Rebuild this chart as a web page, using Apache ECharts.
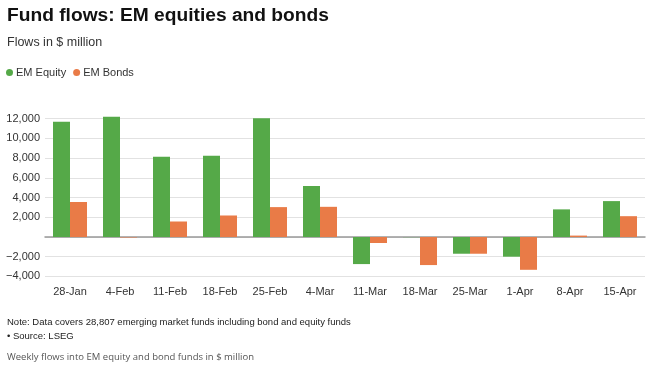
<!DOCTYPE html>
<html>
<head>
<meta charset="utf-8">
<script src="https://cdn.jsdelivr.net/npm/echarts@6/dist/echarts.min.js"></script>
<style>
html,body{margin:0;padding:0;background:#fff;}
#chart{width:646px;height:368px;}
</style>
</head>
<body>
<div id="chart"></div>
<script>
const categories = ['28-Jan','4-Feb','11-Feb','18-Feb','25-Feb','4-Mar','11-Mar','18-Mar','25-Mar','1-Apr','8-Apr','15-Apr'];
const emEquity = [11700, 12200, 8130, 8230, 12050, 5170, -2750, -20, -1700, -2000, 2800, 3640];
const emBonds = [3550, -50, 1570, 2180, 3030, 3060, -610, -2850, -1700, -3330, 140, 2110];
const yTicks = [-4000, -2000, 0, 2000, 4000, 6000, 8000, 10000, 12000];

const chart = echarts.init(document.getElementById('chart'), null, {renderer:'canvas'});
const font = 'Liberation Sans, Arial, Helvetica, sans-serif';
chart.setOption({
  animation:false,
  textStyle:{fontFamily:font},
  title:[
    {text:'Fund flows: EM equities and bonds', left:7, top:6, padding:0, textStyle:{fontSize:19.2, fontWeight:'bold', color:'#111', fontFamily:font}},
    {text:'Flows in $ million', left:7, top:36, padding:0, textStyle:{fontSize:12.5, fontWeight:'normal', color:'#333', fontFamily:font}},
    {text:'Note: Data covers 28,807 emerging market funds including bond and equity funds', left:7, top:317, padding:0, textStyle:{fontSize:9.5, fontWeight:'normal', color:'#222', fontFamily:font}},
    {text:'• Source: LSEG', left:7, top:331, padding:0, textStyle:{fontSize:9.5, fontWeight:'normal', color:'#222', fontFamily:font}},
    {text:'Weekly flows into EM equity and bond funds in $ million', left:7, top:352, padding:0, textStyle:{fontSize:9.5, fontWeight:'normal', color:'#555', fontFamily:'Open Sans, Inter, sans-serif'}}
  ],
  legend:{
    left:6, top:67, padding:0, icon:'circle', itemWidth:7, itemHeight:7, itemGap:7,
    textStyle:{fontSize:11, color:'#333', fontFamily:font, padding:[0,0,0,-2]},
    data:['EM Equity','EM Bonds']
  },
  grid:{left:45, right:1, top:118.7, bottom:91.6, containLabel:false},
  xAxis:{
    type:'category', data:categories,
    axisLine:{onZero:true, lineStyle:{color:'#999', width:1.5}},
    axisTick:{show:false},
    axisLabel:{fontSize:11, color:'#333', margin:10, fontFamily:font}
  },
  yAxis:{
    type:'value', min:yTicks[0], max:yTicks[yTicks.length-1], interval:2000,
    axisLine:{show:false}, axisTick:{show:false},
    splitLine:{lineStyle:{color:'#e2e2e2', width:1}},
    axisLabel:{fontSize:11, color:'#333', margin:5, fontFamily:font,
      formatter:function(v){ if(v===0) return ''; const s = Math.abs(v).toLocaleString('en-US'); return v<0 ? '\u2212'+s : s; }}
  },
  series:[
    {name:'EM Equity', type:'bar', data:emEquity, barWidth:17, barGap:'0%', clip:false,
     itemStyle:{color:'#55a948'}},
    {name:'EM Bonds', type:'bar', data:emBonds, barWidth:17, barGap:'0%', clip:false,
     itemStyle:{color:'#e97b47'}}
  ]
});
</script>
</body>
</html>
